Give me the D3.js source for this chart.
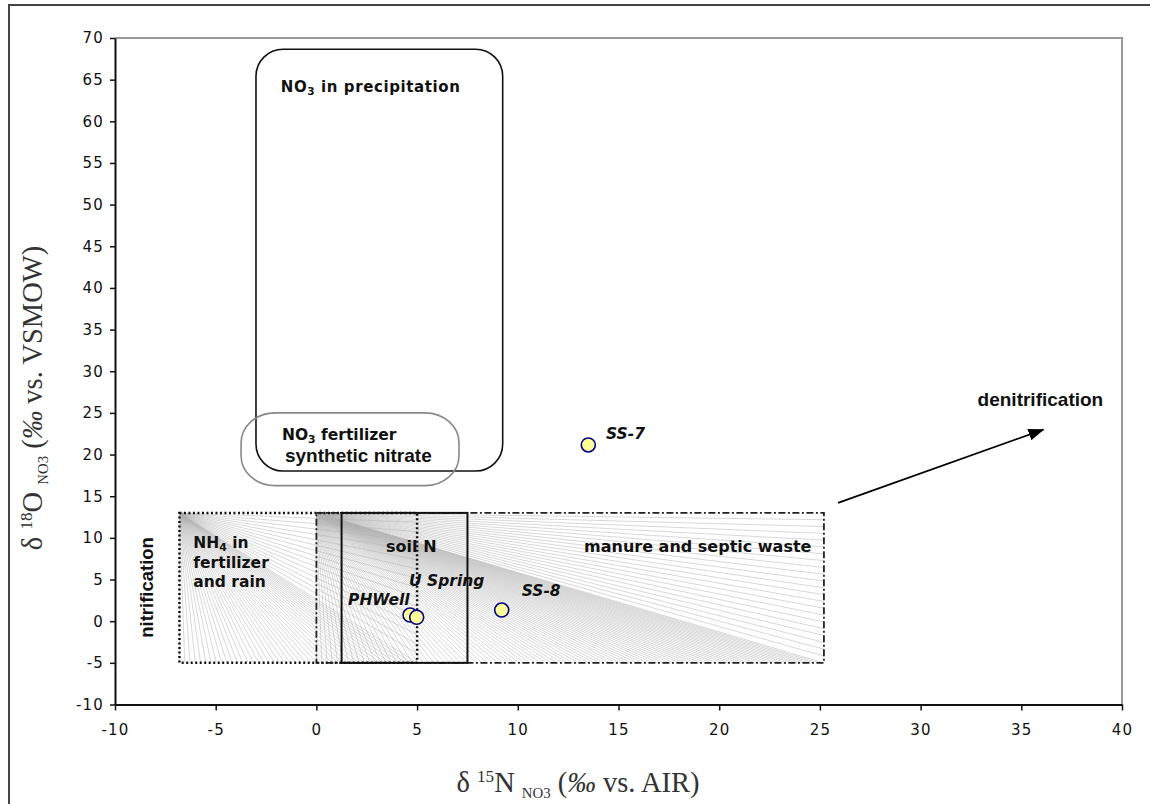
<!DOCTYPE html>
<html>
<head>
<meta charset="utf-8">
<script src="https://cdn.jsdelivr.net/npm/d3@7"></script>
<style>
  body { margin: 0; background: #fff; }
  svg { display: block; }
</style>
</head>
<body>
<svg id="chart" width="1150" height="804"></svg>
<script>
// ---------------- data ----------------
const xTickValues = [-10, -5, 0, 5, 10, 15, 20, 25, 30, 35, 40];
const yTickValues = [-10, -5, 0, 5, 10, 15, 20, 25, 30, 35, 40, 45, 50, 55, 60, 65, 70];

const sampleNames = ["SS-7", "SS-8", "PHWell", "U Spring"];
const sampleD15N  = [13.5, 9.2, 4.65, 4.98];
const sampleD18O  = [21.15, 1.34, 0.74, 0.47];

// hatched source ranges (d15N min/max, d18O min/max)
const fieldNames = ["NH4 in fertilizer and rain", "manure and septic waste", "soil N"];
const fieldX0 = [-6.8, 0, 1.25];
const fieldX1 = [5, 25.2, 7.5];
const fieldY0 = [-5, -5, -5];
const fieldY1 = [13, 13, 13];

// rounded source ranges
const roundNames = ["NO3 in precipitation", "NO3 fertilizer synthetic nitrate"];
const roundX0 = [-3.0, -3.74];
const roundX1 = [9.25, 7.08];
const roundY0 = [18.03, 16.27];
const roundY1 = [68.65, 25.0];

// denitrification trend arrow (d15N, d18O)
const arrowX = [25.9, 36.1];
const arrowY = [14.2, 23.0];

// ---------------- layout ----------------
const svg = d3.select("#chart");
const x = d3.scaleLinear().domain([-10, 40]).range([115, 1122]);
const y = d3.scaleLinear().domain([-10, 70]).range([704.5, 38]);

const sansBold = "'DejaVu Sans', Verdana, sans-serif";
const arialBold = "'Liberation Sans', Arial, sans-serif";

// outer frame (top + left visible)
svg.append("path")
  .attr("d", "M9,812 L9,5 L1160,5")
  .attr("fill", "none").attr("stroke", "#444").attr("stroke-width", 2);

// plot area border (top/right, gray)
svg.append("path")
  .attr("d", `M${x(-10)},${y(70)} L${x(40)},${y(70)} L${x(40)},${y(-10)}`)
  .attr("fill", "none").attr("stroke", "#999").attr("stroke-width", 2);

// ---------------- fan hatching ----------------
const hatch = svg.append("g").attr("stroke", "#b0b0b0").attr("stroke-width", 0.5).attr("fill", "none");
function fan(i, nBottom, nRight) {
  const cx = x(fieldX0[i]), cy = y(fieldY1[i]);
  const xl = x(fieldX0[i]), xr = x(fieldX1[i]);
  const yb = y(fieldY0[i]), yt = y(fieldY1[i]);
  const segs = [];
  d3.range(nBottom + 1).forEach(k => segs.push([xl + (xr - xl) * k / nBottom, yb]));
  d3.range(1, nRight).forEach(k => segs.push([xr, yb - (yb - yt) * k / nRight]));
  hatch.selectAll(null).data(segs).enter().append("line")
    .attr("x1", cx).attr("y1", cy)
    .attr("x2", d => d[0]).attr("y2", d => d[1]);
}
fan(0, 45, 16);
fan(1, 95, 22);

// ---------------- boxes ----------------
// NH4 box: dotted
svg.append("rect")
  .attr("x", x(fieldX0[0])).attr("y", y(fieldY1[0]))
  .attr("width", x(fieldX1[0]) - x(fieldX0[0])).attr("height", y(fieldY0[0]) - y(fieldY1[0]))
  .attr("fill", "none").attr("stroke", "#111").attr("stroke-width", 2.5)
  .attr("stroke-dasharray", "2,2.5");
// manure: dash-dot
svg.append("rect")
  .attr("x", x(fieldX0[1])).attr("y", y(fieldY1[1]))
  .attr("width", x(fieldX1[1]) - x(fieldX0[1])).attr("height", y(fieldY0[1]) - y(fieldY1[1]))
  .attr("fill", "none").attr("stroke", "#222").attr("stroke-width", 1.8)
  .attr("stroke-dasharray", "7,2.5,2,2.5");
// soil N: solid
svg.append("rect")
  .attr("x", x(fieldX0[2])).attr("y", y(fieldY1[2]))
  .attr("width", x(fieldX1[2]) - x(fieldX0[2])).attr("height", y(fieldY0[2]) - y(fieldY1[2]))
  .attr("fill", "none").attr("stroke", "#111").attr("stroke-width", 2);

// rounded boxes
svg.append("rect")
  .attr("x", x(roundX0[0])).attr("y", y(roundY1[0]))
  .attr("width", x(roundX1[0]) - x(roundX0[0])).attr("height", y(roundY0[0]) - y(roundY1[0]))
  .attr("rx", 27).attr("ry", 27)
  .attr("fill", "none").attr("stroke", "#111").attr("stroke-width", 1.6);
svg.append("rect")
  .attr("x", x(roundX0[1])).attr("y", y(roundY1[1]))
  .attr("width", x(roundX1[1]) - x(roundX0[1])).attr("height", y(roundY0[1]) - y(roundY1[1]))
  .attr("rx", 34).attr("ry", 30)
  .attr("fill", "none").attr("stroke", "#888").attr("stroke-width", 1.6);

// ---------------- axes ----------------
const tickFont = "'DejaVu Sans', Verdana, sans-serif";
const fmt = d => String(d);
const yAxis = svg.append("g").attr("transform", `translate(${x(-10)},0)`)
  .call(d3.axisLeft(y).tickValues(yTickValues).tickFormat(fmt).tickSize(5).tickSizeOuter(0).tickPadding(6));
const xAxis = svg.append("g").attr("transform", `translate(0,${y(-10)})`)
  .call(d3.axisBottom(x).tickValues(xTickValues).tickFormat(fmt).tickSize(6).tickSizeOuter(0).tickPadding(14));
[xAxis, yAxis].forEach(g => {
  g.select(".domain").attr("stroke", "#111").attr("stroke-width", 2);
  g.selectAll(".tick line").attr("stroke", "#111").attr("stroke-width", 1.5);
  g.selectAll(".tick text").attr("font-family", tickFont).attr("font-size", 15)
    .attr("fill", "#111").attr("letter-spacing", "1.2px");
});

// ---------------- arrow ----------------
const defs = svg.append("defs");
defs.append("marker").attr("id", "ah").attr("markerUnits", "userSpaceOnUse")
  .attr("viewBox", "0 0 16 12").attr("refX", 15).attr("refY", 6)
  .attr("markerWidth", 16).attr("markerHeight", 12).attr("orient", "auto")
  .append("path").attr("d", "M0,0 L16,6 L0,12 Z").attr("fill", "#000");
svg.append("line")
  .attr("x1", x(arrowX[0])).attr("y1", y(arrowY[0]))
  .attr("x2", x(arrowX[1])).attr("y2", y(arrowY[1]))
  .attr("stroke", "#000").attr("stroke-width", 1.8).attr("marker-end", "url(#ah)");

// ---------------- region labels ----------------
function label(txt, dx, dy, font, size, opts = {}) {
  const t = svg.append("text").attr("x", x(dx)).attr("y", y(dy))
    .attr("font-family", font).attr("font-size", size)
    .attr("font-weight", opts.weight || "bold").attr("fill", "#111");
  if (opts.ls) t.attr("letter-spacing", opts.ls);
  if (opts.italic) t.attr("font-style", "italic");
  return t;
}
function withSub(t, a, sub, b) {
  t.append("tspan").text(a);
  t.append("tspan").text(sub).attr("font-size", "70%").attr("dy", 3);
  t.append("tspan").text(b).attr("dy", -3);
}
withSub(label("", -1.77, 63.46, sansBold, 15, { ls: "0.6px" }), "NO", "3", " in precipitation");
withSub(label("", -1.71, 21.7, sansBold, 15.5), "NO", "3", " fertilizer");
label("", -1.56, 19.05, arialBold, 19).text("synthetic nitrate");
withSub(label("", -6.11, 8.8, sansBold, 15.5), "NH", "4", " in");
label("", -6.11, 6.4, sansBold, 15.5).text("fertilizer");
label("", -6.11, 4.15, sansBold, 15.5).text("and rain");
label("", 3.46, 8.25, sansBold, 16).text("soil N");
label("", 13.29, 8.25, sansBold, 16).text("manure and septic waste");
label("", 32.83, 25.87, arialBold, 19).text("denitrification");
svg.append("text")
  .attr("transform", `translate(${x(-8.1)},${y(4.05)}) rotate(-90)`)
  .attr("text-anchor", "middle")
  .attr("font-family", arialBold).attr("font-size", 18.5).attr("font-weight", "bold")
  .attr("fill", "#111").text("nitrification");

// ---------------- samples ----------------
svg.append("g").selectAll("circle").data(sampleNames).enter().append("circle")
  .attr("cx", (d, i) => x(sampleD15N[i])).attr("cy", (d, i) => y(sampleD18O[i]))
  .attr("r", 7).attr("fill", "#ffff99").attr("stroke", "#000080").attr("stroke-width", 1.6);

const sampleLabelX = [14.38, 10.19, 1.57, 4.6];
const sampleLabelY = [21.87, 3.02, 1.98, 4.26];
svg.append("g").selectAll("text").data(sampleNames).enter().append("text")
  .attr("x", (d, i) => x(sampleLabelX[i])).attr("y", (d, i) => y(sampleLabelY[i]))
  .attr("font-family", sansBold).attr("font-size", 15.5)
  .attr("font-weight", "bold").attr("font-style", "italic").attr("fill", "#111")
  .text(d => d);

// ---------------- axis titles ----------------
const serif = "'Liberation Serif', 'Times New Roman', serif";
function axisTitle(t, iso, el) {
  t.append("tspan").text("δ ");
  t.append("tspan").text(iso).attr("font-size", "60%").attr("dy", -10);
  t.append("tspan").text(el).attr("dy", 10);
  t.append("tspan").text(" ");
  t.append("tspan").text("NO3").attr("font-size", "52%").attr("dy", 6);
  t.append("tspan").text(" (").attr("dy", -6);
  t.append("tspan").text("‰").attr("font-style", "italic");
  return t;
}
const xt = svg.append("text").attr("x", 578).attr("y", 792)
  .attr("text-anchor", "middle").attr("font-family", serif).attr("font-size", 28.5).attr("fill", "#333");
axisTitle(xt, "15", "N").append("tspan").text(" vs. AIR)");
const yt = svg.append("text").attr("transform", "translate(42,398) rotate(-90)")
  .attr("text-anchor", "middle").attr("font-family", serif).attr("font-size", 28.5).attr("fill", "#333");
axisTitle(yt, "18", "O").append("tspan").text(" vs. VSMOW)");
</script>
</body>
</html>
